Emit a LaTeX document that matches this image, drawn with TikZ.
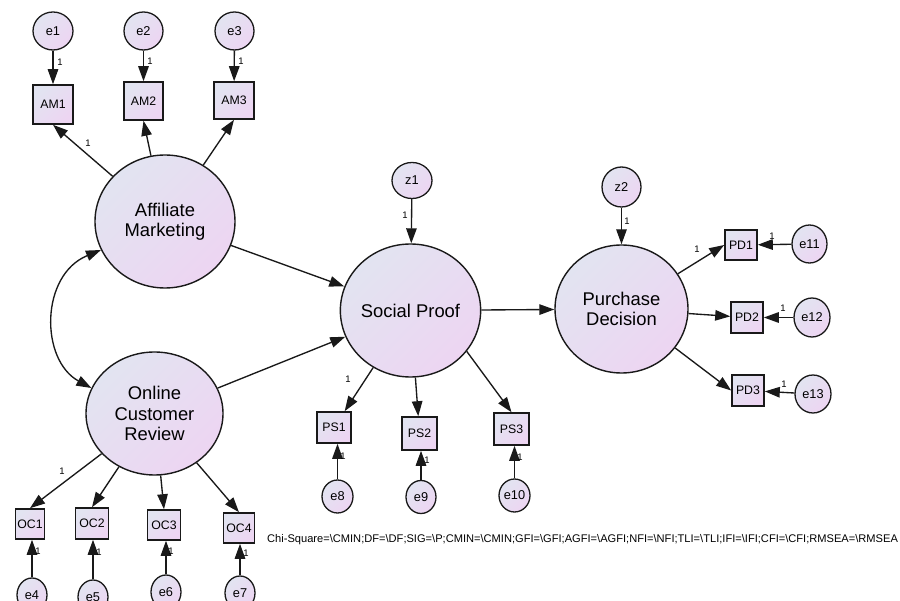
\documentclass[tikz,border=0pt]{standalone}
\usepackage{fontspec}
\setmainfont{Liberation Sans}
\usetikzlibrary{arrows.meta,shapes.geometric}
\definecolor{ga}{RGB}{226,228,241}
\definecolor{gb}{RGB}{237,213,242}
\definecolor{edgec}{RGB}{25,25,25}
\begin{document}
\begin{tikzpicture}[x=1pt,y=-1pt,
  grad/.style={top color=ga,bottom color=gb,shading angle=45},
  latent/.style={ellipse,draw=edgec,line width=1.4pt,grad,inner sep=0pt,align=center,font=\fontsize{18.4}{20.5}\selectfont},
  err/.style={ellipse,draw=edgec,line width=1.3pt,grad,inner sep=0pt,font=\fontsize{12.8}{14}\selectfont},
  obs/.style={rectangle,draw=edgec,line width=1.6pt,grad,inner sep=0pt,font=\fontsize{12.3}{14}\selectfont},
  sz/.style 2 args={minimum width=#1pt,minimum height=#2pt},
  tip/.tip={Triangle[length=15pt,width=10.5pt]},
  arr/.style={line width=1.35pt,draw=edgec,-tip},
  darr/.style={line width=1.35pt,draw=edgec,tip-tip},
  one/.style={font=\fontsize{9.5}{10}\selectfont,inner sep=0pt}
]
\useasboundingbox[fill=white] (0,0) rectangle (900,601);

% latent variables
\node[latent,sz={140}{133}] (AM) at (165,221.5) {Affiliate\\Marketing};
\node[latent,sz={137}{123}] (OCR) at (154.5,413.5) {Online\\Customer\\Review};
\node[latent,sz={131}{133}] (SP) at (410.5,310.5) {Social Proof};
\node[latent,sz={133}{128}] (PD) at (621.5,309) {Purchase\\Decision};

% disturbances
\node[err,sz={40}{36}] (z1) at (412,180.5) {z1};
\node[err,sz={39}{40}] (z2) at (621.5,187) {z2};

% AM indicators
\node[err,sz={40}{38}] (e1) at (53,31) {e1};
\node[err,sz={39}{38}] (e2) at (143.5,31) {e2};
\node[err,sz={39}{38}] (e3) at (234.5,31) {e3};
\node[obs,sz={40}{39}] (AM1) at (53,104.5) {AM1};
\node[obs,sz={39}{38}] (AM2) at (143.5,101) {AM2};
\node[obs,sz={40}{37}] (AM3) at (234,100.5) {AM3};

% OC indicators
\node[obs,sz={29}{30}] (OC1) at (30,524) {OC1};
\node[obs,sz={33}{31}] (OC2) at (92,523.5) {OC2};
\node[obs,sz={33}{30}] (OC3) at (164,525) {OC3};
\node[obs,sz={31}{30}] (OC4) at (239,528) {OC4};
\node[err,sz={30}{34}] (e4) at (32,595) {e4};
\node[err,sz={30}{34}] (e5) at (93,597) {e5};
\node[err,sz={30}{34}] (e6) at (166,592) {e6};
\node[err,sz={30}{34}] (e7) at (240,593) {e7};

% PS indicators
\node[obs,sz={34}{31}] (PS1) at (334,427.5) {PS1};
\node[obs,sz={35}{33}] (PS2) at (419.5,433.5) {PS2};
\node[obs,sz={35}{32}] (PS3) at (511.5,429) {PS3};
\node[err,sz={31}{33}] (e8) at (337.5,496.5) {e8};
\node[err,sz={30}{33}] (e9) at (421,497) {e9};
\node[err,sz={31}{33}] (e10) at (514.5,495.5) {e10};

% PD indicators
\node[obs,sz={32}{30}] (PD1) at (741,245) {PD1};
\node[obs,sz={32}{31}] (PD2) at (747,317.5) {PD2};
\node[obs,sz={32}{31}] (PD3) at (748,390.5) {PD3};
\node[err,sz={35}{38}] (e11) at (809.5,244) {e11};
\node[err,sz={36}{39}] (e12) at (812,317.5) {e12};
\node[err,sz={36}{38}] (e13) at (813,394) {e13};

% connectors
\draw[arr] (e1) -- (AM1);
\draw[arr] (e2) -- (AM2);
\draw[arr] (e3) -- (AM3);
\draw[arr] (AM) -- (AM1.south);
\draw[arr] (AM) -- (AM2.south);
\draw[arr] (AM) -- (AM3.south);
\draw[darr] (AM.204) .. controls (40,275) and (40,360) .. (OCR.158);
\draw[arr] (AM) -- (SP);
\draw[arr] (OCR) -- (SP);
\draw[arr] (SP) -- (PD);
\draw[arr] (z1) -- (SP);
\draw[arr] (z2) -- (PD);
\draw[arr] (OCR) -- (OC1.north);
\draw[arr] (OCR) -- (OC2.north);
\draw[arr] (OCR) -- (OC3.north);
\draw[arr] (OCR) -- (OC4.north);
\draw[arr] (e4) -- (e4 |- OC1.south);
\draw[arr] (e5) -- (e5 |- OC2.south);
\draw[arr] (e6) -- (e6 |- OC3.south);
\draw[arr] (e7) -- (e7 |- OC4.south);
\draw[arr] (SP) -- (PS1);
\draw[arr] (SP) -- (PS2);
\draw[arr] (SP.-36) -- (PS3.north);
\draw[arr] (e8) -- (e8 |- PS1.south);
\draw[arr] (e9) -- (e9 |- PS2.south);
\draw[arr] (e10) -- (e10 |- PS3.south);
\draw[arr] (PD.32) -- (PD1.west);
\draw[arr] (PD) -- (PD2);
\draw[arr] (PD.-36) -- (PD3.west);
\draw[arr] (e11) -- (PD1);
\draw[arr] (e12) -- (PD2);
\draw[arr] (e13) -- (PD3);

% regression weight labels
\node[one] at (60,62) {1};
\node[one] at (150,61) {1};
\node[one] at (241,61) {1};
\node[one] at (88,143) {1};
\node[one] at (405,215) {1};
\node[one] at (627,221) {1};
\node[one] at (62,471) {1};
\node[one] at (38,551) {1};
\node[one] at (99,552) {1};
\node[one] at (171,551) {1};
\node[one] at (246,553) {1};
\node[one] at (348,379) {1};
\node[one] at (343,456) {1};
\node[one] at (427,460) {1};
\node[one] at (520,457) {1};
\node[one] at (697,249) {1};
\node[one] at (772,236) {1};
\node[one] at (783,308) {1};
\node[one] at (784,384) {1};

% fit statistics
\node[anchor=west,inner sep=0pt,font=\fontsize{11.1}{13}\selectfont] (fit) at (267,540)
  {Chi-Square=\textbackslash CMIN;DF=\textbackslash DF;SIG=\textbackslash P;CMIN=\textbackslash CMIN;GFI=\textbackslash GFI;AGFI=\textbackslash AGFI;NFI=\textbackslash NFI;TLI=\textbackslash TLI;IFI=\textbackslash IFI;CFI=\textbackslash CFI;RMSEA=\textbackslash RMSEA};
\end{tikzpicture}
\end{document}
